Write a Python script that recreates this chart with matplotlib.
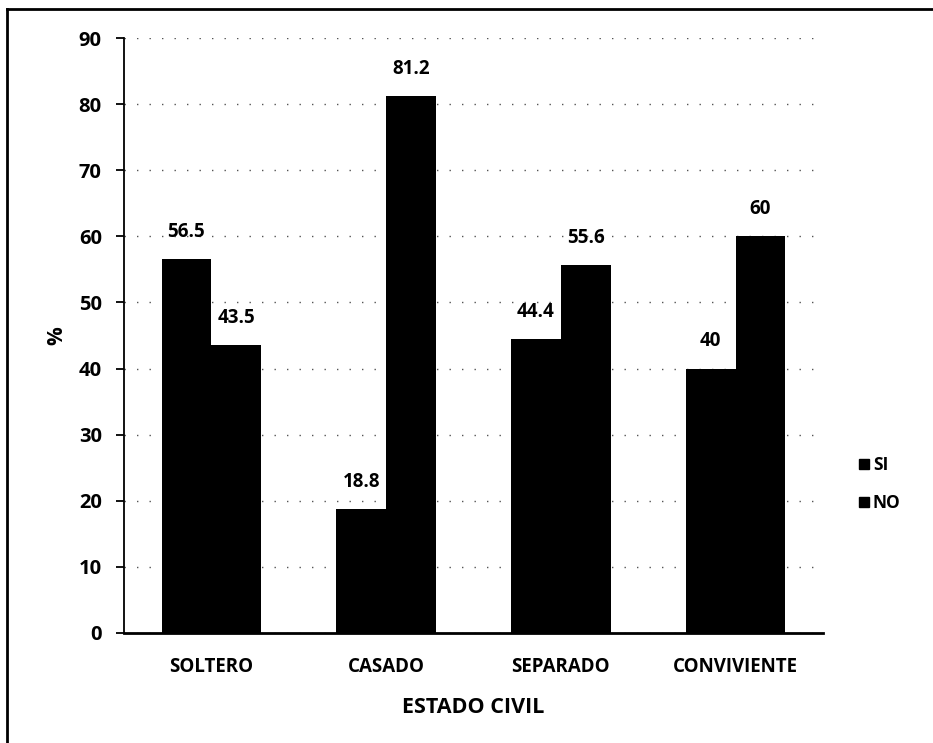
import matplotlib
matplotlib.use("Agg")
import matplotlib.pyplot as plt
import numpy as np
from matplotlib.lines import Line2D

categories = ["SOLTERO", "CASADO", "SEPARADO", "CONVIVIENTE"]
si_values = [56.5, 18.8, 44.4, 40]
no_values = [43.5, 81.2, 55.6, 60]
si_labels = ["56.5", "18.8", "44.4", "40"]
no_labels = ["43.5", "81.2", "55.6", "60"]
series_names = ["SI", "NO"]
yticks = [0, 10, 20, 30, 40, 50, 60, 70, 80, 90]

plt.rcParams['font.family'] = ['Open Sans', 'DejaVu Sans']
plt.rcParams['font.weight'] = 'bold'

W, H = 933, 743
fig = plt.figure(figsize=(W / 100, H / 100), dpi=100)
ax = fig.add_axes([124 / W, 1 - 633 / H, (823 - 124) / W, (633 - 38) / H])

x = np.arange(len(categories))
bw = 0.285
b1 = ax.bar(x - bw / 2, si_values, bw, color='black', label=series_names[0], zorder=3)
b2 = ax.bar(x + bw / 2, no_values, bw, color='black', label=series_names[1], zorder=3)

for rect, lab in zip(b1, si_labels):
    ax.text(rect.get_x() + rect.get_width() / 2, rect.get_height() + 2.6, lab,
            ha='center', va='bottom', fontsize=13.5, fontweight='bold')
for rect, lab in zip(b2, no_labels):
    ax.text(rect.get_x() + rect.get_width() / 2, rect.get_height() + 2.6, lab,
            ha='center', va='bottom', fontsize=13.5, fontweight='bold')

ax.set_xlim(-0.5, len(categories) - 0.5)
ax.set_ylim(0, 90)
ax.set_yticks(yticks)
ax.set_xticks(x)
ax.set_xticklabels(categories, fontsize=13.5, fontweight='bold')
ax.tick_params(axis='y', labelsize=14.5, length=6, width=1.3, pad=10)
ax.tick_params(axis='x', length=0, pad=17)
for lbl in ax.get_yticklabels():
    lbl.set_fontweight('bold')

ax.yaxis.grid(True, color='#555555', linestyle=(0, (1, 8)), linewidth=1.0, zorder=0)
ax.set_axisbelow(True)
for s in ['top', 'right']:
    ax.spines[s].set_visible(False)
ax.spines['left'].set_linewidth(1.3)
ax.spines['bottom'].set_linewidth(2)

ax.set_ylabel('%', fontsize=15, fontweight='bold', labelpad=8)
ax.set_xlabel('ESTADO CIVIL', fontsize=15.5, fontweight='bold', labelpad=15)

handles = [Line2D([0], [0], marker='s', color='w', markerfacecolor='black',
                  markeredgecolor='black', markersize=7.5) for _ in series_names]
fig.legend(handles, series_names, loc='center left',
           bbox_to_anchor=(840 / W, 1 - 484 / H), frameon=False,
           handletextpad=0.0, labelspacing=1.2,
           handlelength=1.0, prop={'weight': 'bold', 'size': 12.5})

# figure border (left and top visible in reference)
fig.add_artist(Line2D([7 / W, 7 / W], [0, 1 - 9 / H], transform=fig.transFigure,
                      color='black', linewidth=2))
fig.add_artist(Line2D([7 / W, 1], [1 - 9 / H, 1 - 9 / H], transform=fig.transFigure,
                      color='black', linewidth=2))

fig.savefig('out.png', dpi=100)
